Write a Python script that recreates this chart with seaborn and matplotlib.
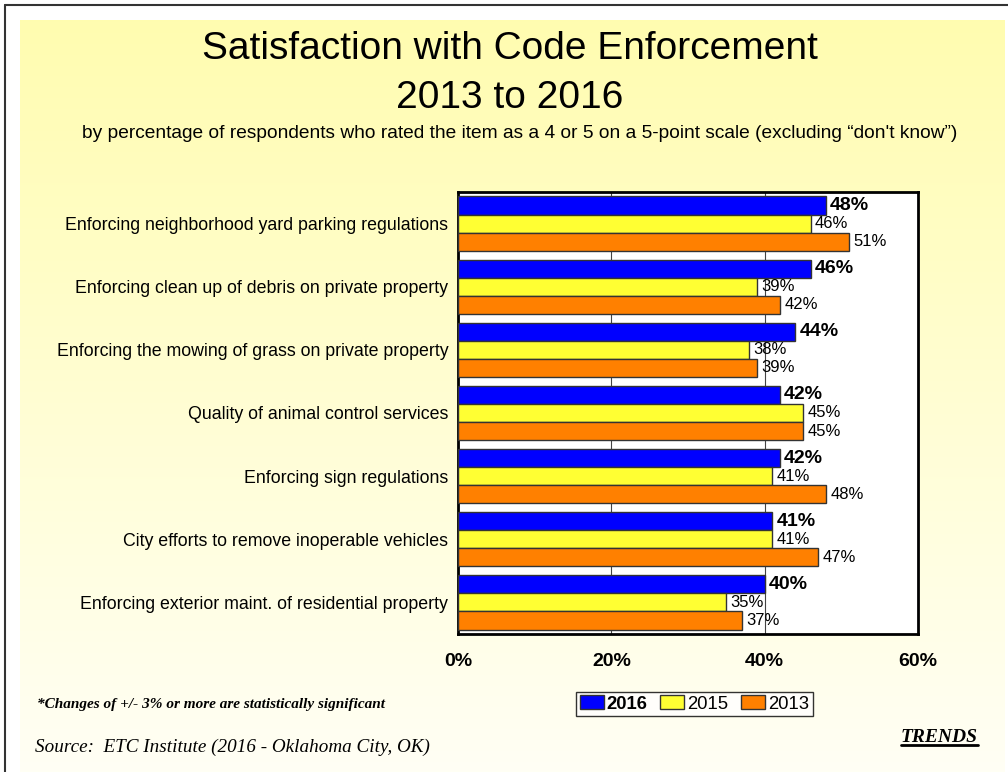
import numpy as np
import pandas as pd
import matplotlib.pyplot as plt
import seaborn as sns

# data
categories = [
    "Enforcing neighborhood yard parking regulations",
    "Enforcing clean up of debris on private property",
    "Enforcing the mowing of grass on private property",
    "Quality of animal control services",
    "Enforcing sign regulations",
    "City efforts to remove inoperable vehicles",
    "Enforcing exterior maint. of residential property",
]
years = ["2016", "2015", "2013"]
vals_2016 = [48, 46, 44, 42, 42, 41, 40]
vals_2015 = [46, 39, 38, 45, 41, 41, 35]
vals_2013 = [51, 42, 39, 45, 48, 47, 37]
xticks = [0, 20, 40, 60]

colors = {"2016": "#0000FF", "2015": "#FFFF33", "2013": "#FF8000"}

df = pd.DataFrame({
    "item": categories * 3,
    "year": ["2016"] * 7 + ["2015"] * 7 + ["2013"] * 7,
    "pct": vals_2016 + vals_2015 + vals_2013,
})

sns.set_style("white")
plt.rcParams['font.family'] = ['Liberation Sans', 'DejaVu Sans']
plt.rcParams['text.color'] = 'black'
plt.rcParams['xtick.color'] = 'black'
plt.rcParams['ytick.color'] = 'black'

fig = plt.figure(figsize=(10.08, 7.72), dpi=100)

# background: thin frame + yellow gradient panel
bg = fig.add_axes([0, 0, 1, 1], zorder=-10)
bg.set_xlim(0, 1008)
bg.set_ylim(772, 0)
bg.axis("off")
top = np.array([1.0, 0.99, 0.69])
bot = np.array([1.0, 1.0, 0.96])
t = np.linspace(0, 1, 256)[:, None, None]
grad = top * (1 - t) + bot * t
bg.imshow(grad, extent=[20, 1005, 772, 20], aspect="auto")
bg.plot([5, 1008], [5, 5], color="#333333", lw=1.5)
bg.plot([5, 5], [5, 772], color="#333333", lw=1.5)

ax = fig.add_axes([0.4544, 0.1788, 0.4563, 0.5725])
ax.set_facecolor("white")
sns.barplot(data=df, y="item", x="pct", hue="year", hue_order=years,
            palette=colors, saturation=1, orient="h", width=0.86, gap=0,
            edgecolor="#333333", linewidth=1, ax=ax, legend=False, zorder=3)

ax.set_xlim(0, 60)
ax.set_ylim(6.5, -0.5)
ax.set_xticks(xticks)
ax.set_xticklabels([f"{v}%" for v in xticks], fontsize=14, fontweight="bold")
ax.tick_params(axis="x", length=0, pad=14)
ax.tick_params(axis="y", length=0, pad=7, labelsize=12.8)
ax.set_xlabel("")
ax.set_ylabel("")
for x in [20, 40]:
    ax.axvline(x, color="#444444", lw=0.8, zorder=1)
for s in ax.spines.values():
    s.set_visible(True)
    s.set_color("black")
    s.set_linewidth(2)

for cont, yr in zip(ax.containers, years):
    ax.bar_label(cont, labels=[f"{int(b.get_width())}%" for b in cont],
                 padding=3, fontsize=14 if yr == "2016" else 12,
                 fontweight="bold" if yr == "2016" else "normal", zorder=4)

# titles
fig.text(0.506, 0.937, "Satisfaction with Code Enforcement", ha="center", va="center", fontsize=28)
fig.text(0.506, 0.873, "2013 to 2016", ha="center", va="center", fontsize=28)
fig.text(0.516, 0.827, "by percentage of respondents who rated the item as a 4 or 5 on a 5-point scale "
         "(excluding \u201cdon't know\u201d)", ha="center", va="center", fontsize=13.8)

# legend
handles = [plt.Rectangle((0, 0), 1, 1, facecolor=colors[y], edgecolor="#333333", lw=1) for y in years]
leg = fig.legend(handles, years, loc="center", bbox_to_anchor=(0.689, 0.088), ncol=3,
                 frameon=True, fancybox=False, edgecolor="black", fontsize=13.3,
                 handlelength=1.3, handleheight=0.75, handletextpad=0.15, columnspacing=0.7,
                 borderpad=0.2, borderaxespad=0)
leg.get_frame().set_linewidth(1)
leg.get_texts()[0].set_fontweight("bold")

serif = ['Liberation Serif', 'DejaVu Serif']
fig.text(0.037, 0.088, "*Changes of +/- 3% or more are statistically significant",
         family=serif, fontsize=11, fontweight="bold", style="italic", va="center")
fig.text(0.035, 0.032, "Source:  ETC Institute (2016 - Oklahoma City, OK)",
         family=serif, fontsize=13.8, style="italic", va="center")
tr = fig.text(0.970, 0.045, "TRENDS", family=serif, fontsize=14, fontweight="bold",
              style="italic", ha="right", va="center")

# underline TRENDS
fig.canvas.draw()
bb = tr.get_window_extent().transformed(fig.transFigure.inverted())
fig.add_artist(plt.Line2D([bb.x0, bb.x1], [bb.y0 + 0.001, bb.y0 + 0.001],
                          transform=fig.transFigure, color="black", lw=2))

fig.savefig("out.png", dpi=100)
